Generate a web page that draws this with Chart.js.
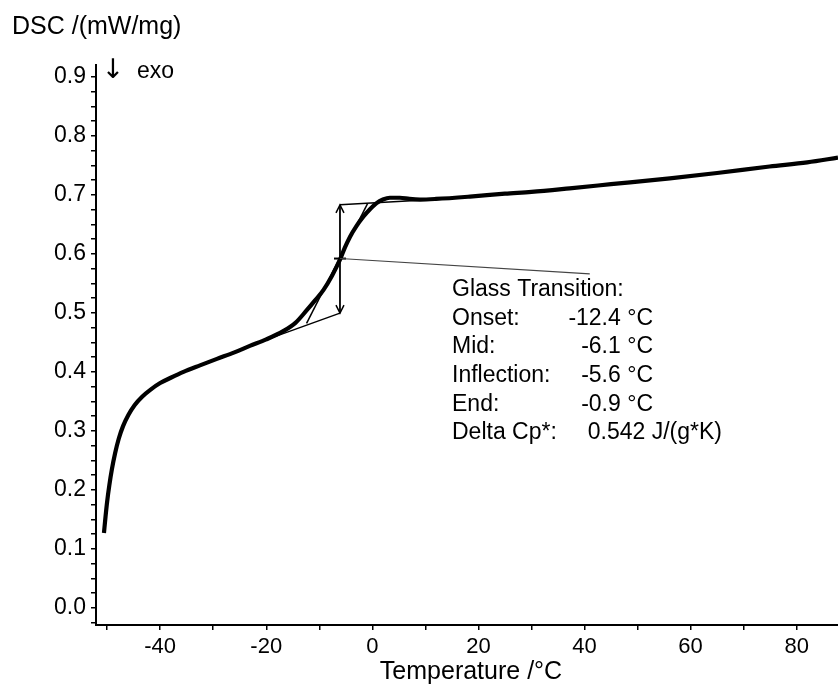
<!DOCTYPE html>
<html>
<head>
<meta charset="utf-8">
<title>DSC glass transition</title>
<script src="https://cdn.jsdelivr.net/npm/chart.js@4.4.1/dist/chart.umd.min.js"></script>
<style>
  html, body { margin: 0; padding: 0; background: #fff; overflow: hidden; }
  canvas { display: block; }
</style>
</head>
<body>
<canvas id="dsc" width="838" height="685"></canvas>
<script>
const curveTemp = [-50.6, -50.3, -50.0, -49.6, -49.1, -48.5, -47.8, -47.0, -46.0, -44.8, -43.4, -41.8,
  -40.0, -38.0, -35.6, -32.5, -29.3, -26.0, -23.1, -20.0, -16.8, -14.5, -12.4, -10.8, -9.2, -7.6,
  -6.1, -5.2, -4.2, -3.0, -1.7, -0.4, 0.8, 2.0, 3.3, 5.2, 7.0, 9.0, 12.0, 18.4, 25.0, 30.0, 37.2,
  45.0, 56.1, 65.0, 74.9, 82.0, 87.8];
const curveDsc = [0.127, 0.155, 0.180, 0.207, 0.235, 0.262, 0.287, 0.308, 0.327, 0.344, 0.358, 0.370,
  0.381, 0.390, 0.400, 0.411, 0.422, 0.433, 0.444, 0.455, 0.469, 0.483, 0.504, 0.521, 0.539, 0.563,
  0.590, 0.610, 0.629, 0.647, 0.663, 0.676, 0.686, 0.692, 0.695, 0.695, 0.693, 0.692, 0.693, 0.697,
  0.702, 0.705, 0.711, 0.718, 0.728, 0.737, 0.748, 0.755, 0.763];

// glass transition construction
const lowerBaseT = [-24, -6.1];
const lowerBaseY = [0.4415, 0.4995];
const upperBaseT = [-6.1, 9];
const upperBaseY = [0.683, 0.691];
const tangentT = [-12.4, -0.9];
const tangentY = [0.482, 0.685];
const stepT = [-6.1, -6.1];
const stepY = [0.4995, 0.683];
const midT = [-6.1];
const midY = [0.592];
const leaderT = [-6.1, 41];
const leaderY = [0.592, 0.566];

const glassTitle = "Glass Transition:";
const glassLabels = ["Onset:", "Mid:", "Inflection:", "End:", "Delta Cp*:"];
const glassValues = ["-12.4 °C", "-6.1 °C", "-5.6 °C", "-0.9 °C", "0.542 J/(g*K)"];

const xTicks = [-50, -40, -30, -20, -10, 0, 10, 20, 30, 40, 50, 60, 70, 80];
const xLabelled = [-40, -20, 0, 20, 40, 60, 80];
const yMajor = [0.0, 0.1, 0.2, 0.3, 0.4, 0.5, 0.6, 0.7, 0.8, 0.9];
const yMinorStep = 0.025;

const FONT = "'Liberation Sans', Arial, sans-serif";

function pts(xs, ys) {
  return xs.map((x, i) => ({ x, y: ys[i] }));
}

function thin(label, xs, ys, width, color) {
  return {
    label,
    data: pts(xs, ys),
    borderColor: color || "#000",
    borderWidth: width,
    pointRadius: 0,
    tension: 0,
  };
}

function yTickList() {
  const out = [];
  for (let k = -1; k <= 36; k++) out.push(+(k * yMinorStep).toFixed(3));
  return out;
}

const extras = {
  id: "extras",
  afterDatasetsDraw(chart) {
    const { ctx, scales } = chart;
    const px = (t) => scales.x.getPixelForValue(t);
    const py = (v) => scales.y.getPixelForValue(v);
    ctx.save();
    ctx.strokeStyle = "#000";
    ctx.lineWidth = 1.5;

    // open arrowheads on the step arrow
    const head = (x, y, dir) => {
      ctx.beginPath();
      ctx.moveTo(x - 4, y - dir * 8);
      ctx.lineTo(x, y);
      ctx.lineTo(x + 4, y - dir * 8);
      ctx.stroke();
    };
    head(px(stepT[1]), py(stepY[1]), -1);
    head(px(stepT[0]), py(stepY[0]), 1);

    ctx.fillStyle = "#000";
    ctx.textBaseline = "middle";

    // y title, exo marker
    ctx.font = "25px " + FONT;
    ctx.textAlign = "left";
    ctx.fillText("DSC /(mW/mg)", 12, 27);
    ctx.textAlign = "center";
    ctx.font = "27px 'DejaVu Sans', sans-serif";
    ctx.fillText("↓", 113, 71);
    ctx.textAlign = "left";
    ctx.font = "23px " + FONT;
    ctx.fillText("exo", 137, 72);

    // x title
    ctx.textAlign = "center";
    ctx.font = "25px " + FONT;
    ctx.fillText("Temperature /°C", 471, 672);

    // glass transition block
    const valueRight = [653, 653, 653, 653, 722];
    ctx.font = "23px " + FONT;
    ctx.textAlign = "left";
    ctx.fillText(glassTitle, 452, 290);
    glassLabels.forEach((lab, i) => {
      const y = 318.5 + i * 28.6;
      ctx.textAlign = "left";
      ctx.fillText(lab, 452, y);
      ctx.textAlign = "right";
      ctx.fillText(glassValues[i], valueRight[i], y);
    });
    ctx.restore();
  },
};

new Chart(document.getElementById("dsc"), {
  type: "line",
  data: {
    datasets: [
      thin("leader", leaderT, leaderY, 1.1, "#444"),
      thin("lower", lowerBaseT, lowerBaseY, 1.5),
      thin("upper", upperBaseT, upperBaseY, 1.5),
      thin("tangent", tangentT, tangentY, 1.5),
      thin("step", stepT, stepY, 1.8),
      {
        label: "mid",
        data: pts(midT, midY),
        showLine: false,
        pointStyle: "line",
        pointRadius: 6,
        borderColor: "#000",
        borderWidth: 2,
      },
      {
        label: "DSC",
        data: pts(curveTemp, curveDsc),
        borderColor: "#000",
        borderWidth: 4.2,
        pointRadius: 0,
        cubicInterpolationMode: "monotone",
      },
    ],
  },
  options: {
    responsive: false,
    animation: false,
    layout: { autoPadding: false, padding: { top: 65, left: 0, right: 0, bottom: 0 } },
    plugins: { legend: { display: false }, tooltip: { enabled: false } },
    scales: {
      x: {
        type: "linear",
        min: -52.1,
        max: 87.8,
        afterFit: (s) => { s.height = 60; s.paddingLeft = 0; s.paddingRight = 0; },
        afterBuildTicks: (s) => { s.ticks = xTicks.map((v) => ({ value: v })); },
        border: { display: true, color: "#000", width: 2 },
        grid: { display: true, drawOnChartArea: false, drawTicks: true, tickLength: 5, color: "#000", lineWidth: 1.5 },
        ticks: {
          autoSkip: false,
          maxRotation: 0,
          padding: 4,
          color: "#000",
          font: { family: FONT, size: 22 },
          callback: (v) => (xLabelled.includes(v) ? String(v) : ""),
        },
      },
      y: {
        type: "linear",
        min: -0.029,
        max: 0.92,
        afterFit: (s) => { s.width = 96; s.paddingTop = 0; s.paddingBottom = 0; },
        afterBuildTicks: (s) => { s.ticks = yTickList().map((v) => ({ value: v })); },
        border: { display: true, color: "#000", width: 2 },
        grid: { display: true, drawOnChartArea: false, drawTicks: true, tickLength: 5, color: "#000", lineWidth: 1.5 },
        ticks: {
          autoSkip: false,
          padding: 5,
          color: "#000",
          font: { family: FONT, size: 23 },
          callback: (v) => {
            const hit = yMajor.find((m) => Math.abs(m - v) < 1e-6);
            return hit === undefined ? "" : hit.toFixed(1);
          },
        },
      },
    },
  },
  plugins: [extras],
});
</script>
</body>
</html>
